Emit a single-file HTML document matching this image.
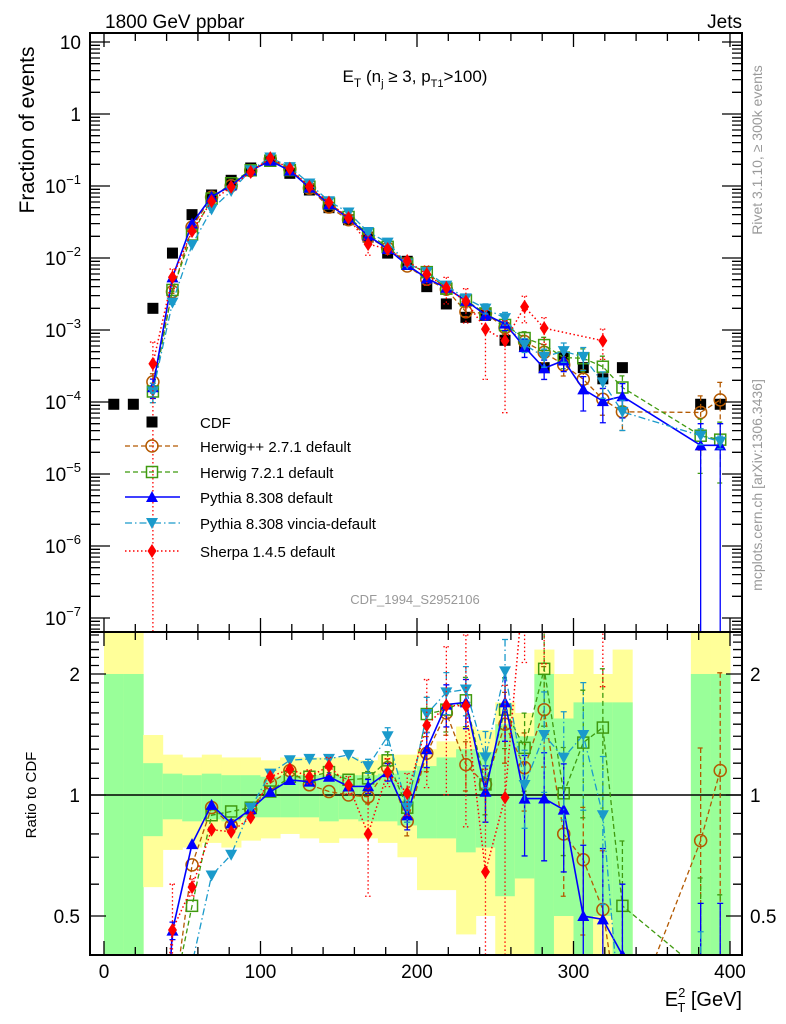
<!DOCTYPE html>
<html><head><meta charset="utf-8"><style>
html,body{margin:0;padding:0;background:#fff;overflow:hidden;width:786px;height:1024px;}
svg{display:block;font-family:"Liberation Sans",sans-serif;}
</style></head><body>
<svg id="chart" width="786" height="1024" viewBox="0 0 786 1024" xmlns="http://www.w3.org/2000/svg">
<text x="105" y="28" font-size="19">1800 GeV ppbar</text>
<text x="742" y="28" font-size="19" text-anchor="end">Jets</text>
<text x="415" y="82" font-size="17" text-anchor="middle">E<tspan font-size="12" dy="5">T</tspan><tspan dy="-5"> (n</tspan><tspan font-size="11" dy="5">j</tspan><tspan dy="-5"> ≥ 3, p</tspan><tspan font-size="11" dy="5">T1</tspan><tspan dy="-5">&gt;100)</tspan></text>
<text x="415" y="604" font-size="13" fill="#999" text-anchor="middle">CDF_1994_S2952106</text>
<text transform="translate(762,150) rotate(-90)" font-size="14" fill="#999" text-anchor="middle">Rivet 3.1.10, ≥ 300k events</text>
<text transform="translate(762,485) rotate(-90)" font-size="14" fill="#999" text-anchor="middle">mcplots.cern.ch [arXiv:1306.3436]</text>
<text transform="translate(34,130) rotate(-90)" font-size="21" text-anchor="middle">Fraction of events</text>
<text transform="translate(36,795) rotate(-90)" font-size="15" text-anchor="middle">Ratio to CDF</text>
<text x="742" y="1006" font-size="20" text-anchor="end">E<tspan font-size="13" dy="-9">2</tspan><tspan font-size="13" dx="-8" dy="15">T</tspan><tspan dy="-6"> [GeV]</tspan></text>
<g id="bands"></g><g id="ratiolayer"></g><g id="mainlayer"></g><g id="axes"></g><g id="legend"></g>
</svg>
<script>
const centers = [6.25,18.75,31.25,43.75,56.25,68.75,81.25,93.75,106.25,118.75,131.25,143.75,156.25,168.75,181.25,193.75,206.25,218.75,231.25,243.75,256.25,268.75,281.25,293.75,306.25,318.75,331.25,343.75,356.25,368.75,381.25,393.75];
const cdfValues = [9.3e-5,9.3e-5,2.0e-3,0.0117,0.040,0.075,0.12,0.178,0.22,0.15,0.088,0.050,0.034,0.0195,0.0117,0.0090,0.0040,0.0023,0.0015,0.0016,7.2e-4,5.9e-4,3.0e-4,4.1e-4,3.0e-4,2.1e-4,3.0e-4,null,null,null,9.3e-5,9.3e-5];
const bandYellowHi = [3,3,1.41,1.26,1.24,1.26,1.24,1.24,1.22,1.24,1.24,1.24,1.24,1.22,1.26,1.26,1.30,1.36,1.48,1.45,1.70,1.60,2.3,2.0,2.3,2.0,2.3,null,null,null,3,3];
const bandYellowLo = [0.3,0.3,0.59,0.73,0.74,0.76,0.74,0.77,0.78,0.80,0.78,0.76,0.78,0.78,0.76,0.70,0.58,0.58,0.45,0.50,0.3,0.3,0.3,0.3,0.3,0.3,0.3,null,null,null,0.3,0.3];
const bandGreenHi = [2.0,2.0,1.20,1.13,1.12,1.13,1.12,1.12,1.11,1.12,1.12,1.12,1.12,1.12,1.13,1.15,1.18,1.24,1.30,1.28,1.50,1.40,2.0,1.55,1.7,1.7,1.7,null,null,null,2.0,2.0];
const bandGreenLo = [0.3,0.3,0.79,0.87,0.86,0.87,0.86,0.88,0.88,0.88,0.88,0.86,0.87,0.86,0.86,0.84,0.78,0.78,0.72,0.74,0.56,0.62,0.3,0.5,0.3,0.5,0.3,null,null,null,0.3,0.3];
const herwigppValues = [null,null,1.9e-4,0.0034,0.0268,0.0698,0.1008,0.1638,0.2354,0.1725,0.0933,0.051,0.034,0.0193,0.01369,0.00774,0.00508,0.00368,0.001785,0.0017,0.00108,6.9e-4,4.89e-4,3.28e-4,2.07e-4,1.09e-4,7.3e-5,null,null,null,7.16e-5,1.07e-4];
const herwig7Values = [null,null,1.4e-4,0.0036,0.0212,0.0668,0.1092,0.1655,0.2244,0.1665,0.0977,0.057,0.0371,0.02145,0.01427,0.00837,0.00636,0.00375,0.00258,0.0017,0.001174,7.73e-4,6.18e-4,4.14e-4,4.05e-4,3.09e-4,1.59e-4,null,null,null,3.4e-5,3.0e-5];
const pythiaValues = [null,null,1.6e-4,0.00538,0.0302,0.0709,0.102,0.164,0.224,0.1635,0.095,0.0555,0.0357,0.0205,0.01334,0.00801,0.0052,0.00386,0.00255,0.00163,0.001224,5.78e-4,2.94e-4,3.77e-4,1.5e-4,1.03e-4,1.2e-4,null,null,null,2.5e-5,2.5e-5];
const vinciaValues = [null,null,1.4e-4,0.0024,0.0152,0.0473,0.0852,0.1655,0.2486,0.183,0.1082,0.0615,0.0428,0.023,0.01638,0.00837,0.00636,0.00414,0.002745,0.001984,0.001462,6.25e-4,4.23e-4,5.08e-4,4.23e-4,1.87e-4,7.3e-5,null,null,null,3.4e-5,2.8e-5];
const sherpaValues = [null,null,3.4e-4,0.0054,0.0236,0.0615,0.0972,0.1566,0.2442,0.174,0.0977,0.059,0.036,0.0156,0.01334,0.00909,0.00596,0.00384,0.0025,0.00103,7.1e-4,0.0021,0.00106,null,null,7.1e-4,null,null,null,null,null,null];
const mcRelErr = [0,0,0.3,0.05,0.02,0.02,0.02,0.02,0.02,0.02,0.02,0.03,0.03,0.04,0.05,0.08,0.1,0.12,0.14,0.16,0.2,0.22,0.28,0.3,0.35,0.4,0.45,0,0,0,0.7,0.75];
const vinciaRelErr = [0,0,0.3,0.05,0.02,0.02,0.02,0.02,0.02,0.02,0.02,0.03,0.03,0.04,0.05,0.08,0.1,0.12,0.14,0.16,0.2,0.22,0.28,0.3,0.35,0.4,0.45,0,0,0,0.25,0.2];
const pythiaRelErr = [0,0,0.3,0.05,0.02,0.02,0.02,0.02,0.02,0.02,0.02,0.03,0.03,0.04,0.05,0.08,0.1,0.12,0.14,0.16,0.2,0.28,0.3,0.3,0.5,0.5,0.5,0,0,0,1,1];
const sherpaRelErr = [0,0,1,0.3,0.05,0.03,0.03,0.03,0.03,0.03,0.04,0.05,0.05,0.3,0.08,0.12,0.3,0.4,0.5,0.8,0.9,0.4,0.4,0,0,0.45,0,0,0,0,0,0];
const xTicks = [0,100,200,300,400];
const ratioTickLabels = [0.5,1,2];

const NS="http://www.w3.org/2000/svg";
const X0=90,X1=742,MT=33,MB=632,RB=955;
function xs(v){return 104+v*1.565;}
function ym(v){return 114-72*Math.log10(v);}
function yr(r){return 795-402*Math.log10(r);}
function mk(tag,attrs,parent){const e=document.createElementNS(NS,tag);for(const k in attrs)e.setAttribute(k,attrs[k]);parent.appendChild(e);return e;}
const svg=document.getElementById('chart');
const defs=mk('defs',{},svg);
const c1=mk('clipPath',{id:'cm'},defs);mk('rect',{x:X0,y:MT,width:X1-X0,height:MB-MT},c1);
const c2=mk('clipPath',{id:'cr'},defs);mk('rect',{x:X0,y:MB,width:X1-X0,height:RB-MB},c2);
const bands=document.getElementById('bands');bands.setAttribute('clip-path','url(#cr)');
const rl=document.getElementById('ratiolayer');rl.setAttribute('clip-path','url(#cr)');
const ml=document.getElementById('mainlayer');ml.setAttribute('clip-path','url(#cm)');
const ax=document.getElementById('axes');
const lg=document.getElementById('legend');

for(let i=0;i<centers.length;i++){
  if(bandYellowHi[i]==null)continue;
  const xa=xs(centers[i]-6.25),xb=xs(centers[i]+6.25);
  const y1=mk('rect',{x:xa,y:yr(bandYellowHi[i]),width:xb-xa+0.5,height:yr(bandYellowLo[i])-yr(bandYellowHi[i]),fill:'#ffff99'},bands);
  
  
  const g1=mk('rect',{x:xa,y:yr(bandGreenHi[i]),width:xb-xa+0.5,height:yr(bandGreenLo[i])-yr(bandGreenHi[i]),fill:'#99ff99'},bands);
  
  
}
const one=mk('line',{x1:X0,x2:X1,y1:yr(1),y2:yr(1),stroke:'#000','stroke-width':1.5},rl);



function marker(kind,x,y,color,parent,name){
  let e;
  if(kind==='square'){e=mk('rect',{x:x-5.5,y:y-5.5,width:11,height:11,fill:color},parent);}
  else if(kind==='osquare'){e=mk('rect',{x:x-5.5,y:y-5.5,width:11,height:11,fill:'none',stroke:color,'stroke-width':1.5},parent);}
  else if(kind==='ocircle'){e=mk('circle',{cx:x,cy:y,r:6,fill:'none',stroke:color,'stroke-width':1.5},parent);}
  else if(kind==='tri'){e=mk('path',{d:`M${x},${y-6}L${x+6},${y+5}L${x-6},${y+5}Z`,fill:color},parent);}
  else if(kind==='dtri'){e=mk('path',{d:`M${x},${y+6}L${x+6},${y-5}L${x-6},${y-5}Z`,fill:color},parent);}
  else if(kind==='diamond'){e=mk('path',{d:`M${x},${y-7}L${x+4.5},${y}L${x},${y+7}L${x-4.5},${y}Z`,fill:color},parent);}
  
  
  return e;
}

const series=[
 {name:'Herwig++ 2.7.1 default',key:'herwigpp',vals:herwigppValues,err:mcRelErr,color:'#b35900',dash:'5,3',kind:'ocircle',w:1.3},
 {name:'Herwig 7.2.1 default',key:'herwig7',vals:herwig7Values,err:mcRelErr,color:'#3f9a0f',dash:'5,3',kind:'osquare',w:1.3},
 {name:'Pythia 8.308 default',key:'pythia',vals:pythiaValues,err:pythiaRelErr,color:'#0000ff',dash:'',kind:'tri',w:1.6},
 {name:'Pythia 8.308 vincia-default',key:'vincia',vals:vinciaValues,err:vinciaRelErr,color:'#1a9acb',dash:'7,3,1.5,3',kind:'dtri',w:1.3},
 {name:'Sherpa 1.4.5 default',key:'sherpa',vals:sherpaValues,err:sherpaRelErr,color:'#ff0000',dash:'1.5,2.5',kind:'diamond',w:1.5}
];

for(let i=0;i<centers.length;i++){
  if(cdfValues[i]==null)continue;
  marker('square',xs(centers[i]),ym(cdfValues[i]),'#000',ml,'cdf-data-point');
}

series.forEach(s=>{
  let d='';let started=false;
  for(let i=0;i<centers.length;i++){const v=s.vals[i];if(v==null)continue;d+=(started?'L':'M')+xs(centers[i])+','+ym(v);started=true;}
  const pl=mk('path',{d:d,fill:'none',stroke:s.color,'stroke-width':s.w,'stroke-dasharray':s.dash},ml);
  
  
  let dr='';started=false;
  for(let i=0;i<centers.length;i++){const v=s.vals[i],c=cdfValues[i];if(v==null||c==null)continue;dr+=(started?'L':'M')+xs(centers[i])+','+yr(v/c);started=true;}
  const rp=mk('path',{d:dr,fill:'none',stroke:s.color,'stroke-width':s.w,'stroke-dasharray':s.dash},rl);
  
  
  for(let i=0;i<centers.length;i++){
    const v=s.vals[i];if(v==null)continue;
    const x=xs(centers[i]);const e=s.err[i];
    const hi=v*(1+e),lo=v*(1-e);
    if(e>0.03){
      const yt=ym(hi),yb=lo>0?ym(lo):MB+5;
      const eb=mk('path',{d:`M${x},${yt}L${x},${yb}M${x-3},${yt}L${x+3},${yt}`+(lo>0?`M${x-3},${yb}L${x+3},${yb}`:''),stroke:s.color,'stroke-width':1.3,'stroke-dasharray':s.dash,fill:'none'},ml);
      
      
    }
    marker(s.kind,x,ym(v),s.color,ml,s.key+'-point');
    const c=cdfValues[i];
    if(c!=null){
      const r=v/c;
      if(e>0.03){
        const yt=yr(r*(1+e)),yb=lo>0?yr(r*(1-e)):RB+5;
        const eb2=mk('path',{d:`M${x},${yt}L${x},${yb}M${x-3},${yt}L${x+3},${yt}`+(lo>0?`M${x-3},${yb}L${x+3},${yb}`:''),stroke:s.color,'stroke-width':1.3,'stroke-dasharray':s.dash,fill:'none'},rl);
        
        
      }
      marker(s.kind,x,yr(r),s.color,rl,s.key+'-ratio-point');
    }
  }
});

const f1=mk('rect',{x:X0,y:MT,width:X1-X0,height:MB-MT,fill:'none',stroke:'#000','stroke-width':2},ax);


const f2=mk('rect',{x:X0,y:MB,width:X1-X0,height:RB-MB,fill:'none',stroke:'#000','stroke-width':2},ax);


let td='';
for(let v=0;v<=400;v+=20){const x=xs(v);const L=(v%100===0)?14:8;
  td+=`M${x},${MB}L${x},${MB-L}M${x},${MT}L${x},${MT+L}M${x},${RB}L${x},${RB-L}M${x},${MB}L${x},${MB+L}`;}
for(let e=-8;e<=1;e++){for(let m=1;m<10;m++){const v=m*Math.pow(10,e);const y=ym(v);if(y<MT||y>MB)continue;const L=m===1?20:10;
  td+=`M${X0},${y}L${X0+L},${y}M${X1},${y}L${X1-L},${y}`;}}
for(let k=3;k<=25;k++){const r=k/10;const y=yr(r);if(y<MB||y>RB)continue;const L=(r===0.5||r===1||r===2)?16:9;
  td+=`M${X0},${y}L${X0+L},${y}M${X1},${y}L${X1-L},${y}`;}
const tp=mk('path',{d:td,stroke:'#000','stroke-width':1.3,fill:'none'},ax);


xTicks.forEach(v=>{const t=mk('text',{x:xs(v),y:978,'font-size':19,'text-anchor':'middle'},ax);t.textContent=String(v);
  
  });
for(let e=-7;e<=1;e++){const y=ym(Math.pow(10,e));const t=mk('text',{x:81,y:y+7,'font-size':19,'text-anchor':'end'},ax);
  
  
  if(e===0)t.textContent='1';else if(e===1)t.textContent='10';
  else{t.textContent='10';const sp=mk('tspan',{dy:-9,'font-size':13},t);sp.textContent='\u2212'+(-e);}}
ratioTickLabels.forEach(r=>{const y=yr(r)+7;
  const t=mk('text',{x:80,y:y,'font-size':19,'text-anchor':'end'},ax);t.textContent=String(r);
  
  
  const t2=mk('text',{x:750,y:y,'font-size':19},ax);t2.textContent=String(r);
  
  });

const lys=[422,446,472,497,523,551];
marker('square',152,lys[0],'#000',lg,'legend-cdf-marker');
const lt0=mk('text',{x:200,y:lys[0]+6,'font-size':15},lg);lt0.textContent='CDF';


series.forEach((s,j)=>{const y=lys[j+1];
  const ln=mk('line',{x1:125,x2:180,y1:y,y2:y,stroke:s.color,'stroke-width':s.w,'stroke-dasharray':s.dash},lg);
  
  
  marker(s.kind,152,y,s.color,lg,'legend-marker-'+s.key);
  const t=mk('text',{x:200,y:y+6,'font-size':15},lg);t.textContent=s.name;
  
  });
</script>
</body></html>
